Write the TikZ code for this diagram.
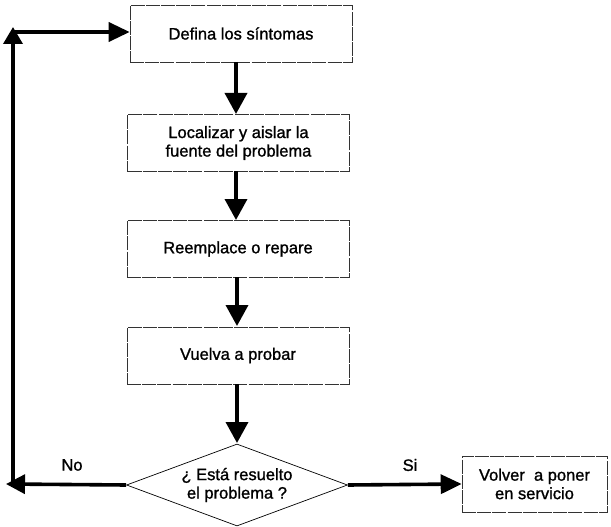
\documentclass[tikz,border=0pt]{standalone}
\usepackage{fontspec}
\setmainfont[FakeBold=1.2]{Liberation Sans}
\usetikzlibrary{arrows.meta,shapes.geometric}
\begin{document}
\begin{tikzpicture}[x=1pt,y=-1pt,
  box/.style={draw=black!80,line width=0.6pt,dash pattern=on 14pt off 1.2pt,minimum width=222pt,minimum height=57pt,align=center,font=\fontsize{16.5}{18.5}\selectfont,inner sep=0pt},
  dia/.style={draw=black,line width=0.7pt,diamond,aspect=2.7,minimum width=221pt,minimum height=82pt,inner sep=0pt,align=center,font=\fontsize{16.5}{18.5}\selectfont},
  flow/.style={line width=3.6pt,-{Triangle[width=22pt,length=21pt]}},
  lbl/.style={font=\fontsize{16.5}{18}\selectfont}]
\useasboundingbox (0,0) rectangle (611,527);
\node[box] (b1) at (241,33.5) {Defina los síntomas};
\node[box] (b2) at (238.5,143) {Localizar y aislar la\\fuente del problema};
\node[box] (b3) at (238,249) {Reemplace o repare};
\node[box] (b4) at (238,355.5) {Vuelva a probar};
\node[dia] (d) at (237,485) {¿ Está resuelto\\el problema ?};
\node[box,minimum width=145pt,minimum height=56pt] (b5) at (534.5,484) {Volver\ \ a poner\\en servicio};
\coordinate (c1) at (236,62);
\coordinate (c2) at (236,114);
\coordinate (c3) at (236,171);
\coordinate (c4) at (236,220);
\coordinate (c5) at (237,277);
\coordinate (c6) at (237,326);
\coordinate (c7) at (237,384);
\coordinate (c8) at (237,443);
\draw[flow] (c1) -- (c2);
\draw[flow] (c3) -- (c4);
\draw[flow] (c5) -- (c6);
\draw[flow] (c7) -- (c8);
\coordinate (l1) at (6,484);
\coordinate (l2) at (13,486);
\coordinate (l3) at (13,27);
\coordinate (l4) at (13,32);
\draw[line width=3.6pt,-{Triangle[width=19pt,length=19pt]}] (d.west) -- (l1);
\draw[line width=3.6pt,-{Triangle[width=19pt,length=17pt]}] (l2) -- (l3);
\draw[line width=3.6pt,-{Triangle[width=19pt,length=21pt]}] (l4) -- (l4 -| b1.west);
\draw[line width=3.6pt,-{Triangle[width=19pt,length=21pt]}] (d.east) -- (b5.west);
\node[lbl] (no) at (72,465) {No};
\node[lbl] (si) at (410,465) {Si};
\end{tikzpicture}
\end{document}
